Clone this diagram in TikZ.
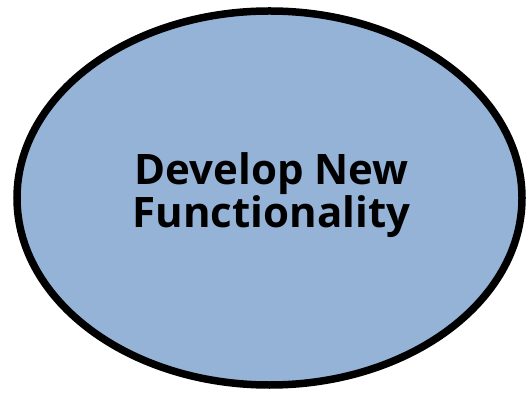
\documentclass[tikz,border=0pt]{standalone}
\usepackage{fontspec}
\setmainfont{Open Sans}
\usetikzlibrary{shapes.geometric}

\definecolor{taskblue}{RGB}{149,179,215}

\begin{document}
\begin{tikzpicture}[x=1pt, y=1pt,
  task/.style={ellipse, draw=black, line width=7.5pt, fill=taskblue,
    minimum width=505pt, minimum height=374pt, inner sep=0pt,
    align=center, font=\fontsize{42}{43.5}\selectfont\bfseries}]

\useasboundingbox (0,0) rectangle (526,393);

% Define nodes
\path (269.5,195)
node[task] (develop) {}
(develop.center) +(2,3) node[font=\fontsize{42}{43.5}\selectfont\bfseries, align=center] (label) {Develop New\\Functionality}
;

\end{tikzpicture}
\end{document}
